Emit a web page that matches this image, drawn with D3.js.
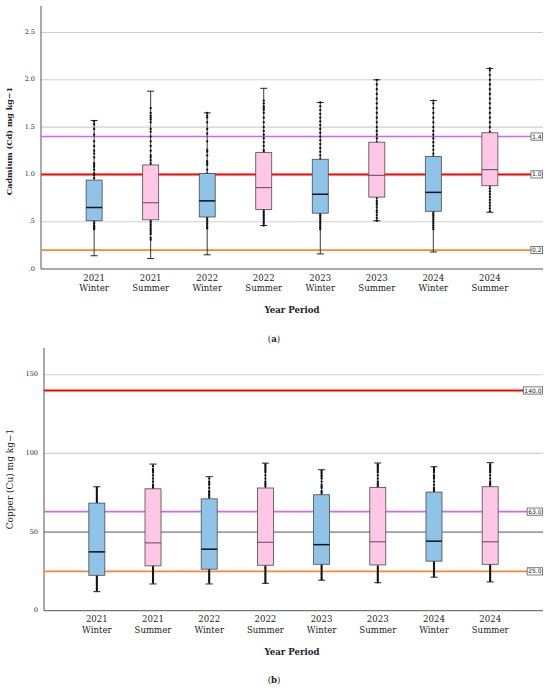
<!DOCTYPE html>
<html>
<head>
<meta charset="utf-8">
<script src="https://cdn.jsdelivr.net/npm/d3@7"></script>
<style>
  body { margin: 0; background: #fff; }
  text { font-family: "DejaVu Serif", serif; fill: #222; }
</style>
</head>
<body>
<div id="main"></div>
<script>
// categories
const years = ["2021", "2021", "2022", "2022", "2023", "2023", "2024", "2024"];
const seasons = ["Winter", "Summer", "Winter", "Summer", "Winter", "Summer", "Winter", "Summer"];

// Cadmium (a) box stats
const cdMin = [0.14, 0.11, 0.15, 0.46, 0.16, 0.51, 0.18, 0.60];
const cdQ1  = [0.51, 0.52, 0.55, 0.63, 0.59, 0.76, 0.61, 0.88];
const cdMed = [0.65, 0.70, 0.72, 0.86, 0.79, 0.99, 0.81, 1.05];
const cdQ3  = [0.94, 1.10, 1.01, 1.23, 1.16, 1.34, 1.19, 1.44];
const cdMax = [1.57, 1.88, 1.65, 1.91, 1.76, 2.00, 1.78, 2.12];
const cdPoints = [
  [0.42, 0.43, 0.44, 0.45, 0.46, 0.48, 0.50, 0.96, 0.99, 1.01, 1.05, 1.08, 1.10, 1.12, 1.18, 1.22, 1.25, 1.30, 1.35, 1.42, 1.48, 1.53, 1.56],
  [0.31, 0.33, 0.37, 0.39, 0.41, 0.43, 0.45, 0.47, 0.49, 0.51, 1.10, 1.12, 1.15, 1.18, 1.20, 1.25, 1.30, 1.35, 1.40, 1.45, 1.48, 1.55, 1.58, 1.60, 1.62, 1.65, 1.70],
  [0.43, 0.44, 0.46, 0.48, 0.50, 0.52, 0.54, 1.01, 1.05, 1.10, 1.12, 1.14, 1.20, 1.24, 1.26, 1.35, 1.43, 1.48, 1.55, 1.60, 1.62, 1.65],
  [0.46, 0.48, 0.50, 0.52, 0.54, 0.56, 0.58, 0.60, 0.62, 1.24, 1.26, 1.30, 1.34, 1.38, 1.42, 1.46, 1.50, 1.55, 1.60, 1.65, 1.68, 1.70, 1.72, 1.75, 1.78],
  [0.42, 0.44, 0.46, 0.48, 0.50, 0.52, 0.54, 0.56, 0.58, 1.16, 1.20, 1.24, 1.28, 1.32, 1.36, 1.40, 1.44, 1.48, 1.52, 1.56, 1.60, 1.64, 1.68, 1.72, 1.76],
  [0.51, 0.54, 0.57, 0.60, 0.62, 0.65, 0.68, 0.70, 0.72, 0.75, 1.34, 1.38, 1.42, 1.46, 1.50, 1.55, 1.60, 1.65, 1.70, 1.75, 1.80, 1.85, 1.90, 1.95, 2.00],
  [0.42, 0.44, 0.46, 0.48, 0.50, 0.52, 0.54, 0.56, 0.58, 0.60, 1.19, 1.22, 1.26, 1.30, 1.34, 1.38, 1.42, 1.46, 1.50, 1.55, 1.60, 1.65, 1.70, 1.75, 1.78],
  [0.61, 0.64, 0.67, 0.70, 0.73, 0.76, 0.79, 0.82, 0.85, 0.88, 1.45, 1.50, 1.55, 1.60, 1.65, 1.70, 1.75, 1.80, 1.85, 1.90, 1.95, 2.00, 2.05, 2.10, 2.12]
];
const cdTicks = [0, 0.5, 1.0, 1.5, 2.0, 2.5];
const cdRefValues = [1.4, 1.0, 0.2];
const cdRefLabels = ["1.4", "1.0", "0.2"];

// Copper (b) box stats
const cuMin = [12.1, 17.0, 17.0, 17.4, 19.4, 17.8, 21.3, 18.3];
const cuQ1  = [22.5, 28.5, 26.4, 28.9, 29.5, 29.1, 31.5, 29.5];
const cuMed = [37.4, 43.1, 39.1, 43.5, 42.0, 43.8, 44.2, 43.8];
const cuQ3  = [68.4, 77.5, 71.1, 78.0, 73.7, 78.4, 75.4, 78.8];
const cuMax = [78.8, 93.2, 85.2, 93.8, 89.6, 93.9, 91.5, 94.1];
const cuPoints = [
  [13, 14, 15, 16, 17, 18, 19, 20, 21, 22, 69, 70, 71, 72, 73, 74, 75, 76, 77, 78],
  [18, 19, 20, 21, 22, 23, 24, 25, 26, 27, 28, 78, 79, 80, 82, 84, 86, 88, 89, 90, 92],
  [18, 19, 20, 21, 22, 23, 24, 25, 26, 72, 73, 74, 75, 76, 78, 80, 81, 82, 84],
  [18, 19, 20, 21, 22, 23, 24, 25, 26, 27, 28, 79, 80, 81, 82, 84, 86, 88, 89, 90, 91, 92, 93],
  [20, 21, 22, 23, 24, 25, 26, 27, 28, 29, 74, 75, 76, 78, 79, 80, 82, 84, 85, 86, 87, 88, 89],
  [18, 19, 20, 21, 22, 23, 24, 25, 26, 27, 28, 79, 80, 81, 82, 84, 86, 88, 89, 90, 91, 92, 93],
  [22, 23, 24, 25, 26, 27, 28, 29, 30, 31, 76, 77, 78, 80, 82, 84, 85, 86, 88, 89, 90, 91],
  [19, 20, 21, 22, 23, 24, 25, 26, 27, 28, 29, 79, 80, 81, 82, 84, 86, 88, 89, 90, 91, 92, 93]
];
const cuTicks = [0, 50, 100, 150];
const cuRefValues = [140, 63, 25];
const cuRefLabels = ["140.0", "63.0", "25.0"];

const ctx = {
    w: 550,
    h: 688,
    BOX_W: 16,
    CAP_W: 7,
    DOT_R: 1.15,
    WINTER: "#8fc3e8",
    SUMMER: "#ffc6e6",
    GRID: "#cfcfcf",
    AXIS: "#555",
};
const refColors = ["#cc66ff", "#ff0000", "#ff8533"];
const refColorsCu = ["#ff0000", "#cc66ff", "#ff8533"];

function fmtCd(v){
    // SPSS style: ".0", ".5", "1.0"
    let s = d3.format(".1f")(v);
    return s.startsWith("0") ? s.slice(1) : s;
}

function drawPanel(svg, p){
    const g = svg.append("g");
    const idx = d3.range(years.length);
    const x = d3.scalePoint().domain(idx).range([p.left, p.right]).padding(0.94);
    const y = d3.scaleLinear().domain(p.domain).range([p.bottom, p.top]);

    // gridlines
    g.append("g").selectAll("line")
        .data(p.ticks.filter(t => t > 0))
        .enter().append("line")
        .attr("x1", p.left).attr("x2", p.right)
        .attr("y1", d => y(d)).attr("y2", d => y(d))
        .attr("stroke", d => (p.darkGrid === d ? "#555" : ctx.GRID))
        .attr("stroke-width", d => (p.darkGrid === d ? 1 : 1.1));

    // y tick labels
    g.append("g").selectAll("text")
        .data(p.ticks)
        .enter().append("text")
        .attr("x", p.left - 6).attr("y", d => y(d))
        .attr("text-anchor", "end").attr("dominant-baseline", "middle")
        .style("font-size", "6.5px")
        .text(d => p.fmt(d));

    // axes
    g.append("line").attr("x1", p.left).attr("x2", p.left)
        .attr("y1", y(p.domain[1])).attr("y2", p.bottom)
        .attr("stroke", ctx.AXIS).attr("stroke-width", 1);
    g.append("line").attr("x1", p.left).attr("x2", p.right)
        .attr("y1", p.bottom).attr("y2", p.bottom)
        .attr("stroke", ctx.AXIS).attr("stroke-width", 1);

    // reference lines
    const refs = g.append("g");
    p.refValues.forEach(function(v, i){
        refs.append("line")
            .attr("x1", p.left).attr("x2", p.right - 2)
            .attr("y1", y(v)).attr("y2", y(v))
            .attr("stroke", p.refColors[i])
            .attr("stroke-width", v === p.thick ? 2 : 1.6);
    });

    // boxes
    const boxes = g.append("g").selectAll("g")
        .data(idx).enter().append("g");
    boxes.append("line")
        .attr("x1", i => x(i)).attr("x2", i => x(i))
        .attr("y1", i => y(p.max[i])).attr("y2", i => y(p.min[i]))
        .attr("stroke", "#222").attr("stroke-width", 0.9);
    ["max", "min"].forEach(function(k){
        boxes.append("line")
            .attr("x1", i => x(i) - ctx.CAP_W / 2).attr("x2", i => x(i) + ctx.CAP_W / 2)
            .attr("y1", i => y(p[k][i])).attr("y2", i => y(p[k][i]))
            .attr("stroke", "#222").attr("stroke-width", 1);
    });
    boxes.selectAll("circle")
        .data(i => p.points[i].map(v => ({i: i, v: v})))
        .enter().append("circle")
        .attr("cx", d => x(d.i)).attr("cy", d => y(d.v))
        .attr("r", ctx.DOT_R).attr("fill", "#111");
    boxes.append("rect")
        .attr("x", i => x(i) - ctx.BOX_W / 2)
        .attr("y", i => y(p.q3[i]))
        .attr("width", ctx.BOX_W)
        .attr("height", i => y(p.q1[i]) - y(p.q3[i]))
        .attr("fill", i => seasons[i] === "Winter" ? ctx.WINTER : ctx.SUMMER)
        .attr("stroke", "#4a4a4a").attr("stroke-width", 0.8);
    boxes.append("line")
        .attr("x1", i => x(i) - ctx.BOX_W / 2).attr("x2", i => x(i) + ctx.BOX_W / 2)
        .attr("y1", i => y(p.med[i])).attr("y2", i => y(p.med[i]))
        .attr("stroke", i => seasons[i] === "Winter" ? "#111" : "#5a4a55")
        .attr("stroke-width", i => seasons[i] === "Winter" ? 1.5 : 1);

    // reference labels
    p.refValues.forEach(function(v, i){
        const lab = refs.append("g");
        const t = lab.append("text")
            .attr("x", p.right - 1.5).attr("y", y(v) + 0.4)
            .attr("text-anchor", "end").attr("dominant-baseline", "middle")
            .style("font-family", "'DejaVu Sans', sans-serif")
            .style("font-size", "6px")
            .text(p.refLabels[i]);
        const bb = t.node().getBBox();
        lab.insert("rect", "text")
            .attr("x", bb.x - 1).attr("y", y(v) - 3.6)
            .attr("width", bb.width + 2).attr("height", 7.2)
            .attr("fill", "#fff").attr("stroke", "#444").attr("stroke-width", 0.7);
    });

    // x labels
    const xl = g.append("g").selectAll("text")
        .data(idx).enter().append("text")
        .attr("text-anchor", "middle")
        .style("font-size", "8.6px");
    xl.append("tspan").attr("x", i => x(i)).attr("y", p.bottom + 11.5).text(i => years[i]);
    xl.append("tspan").attr("x", i => x(i)).attr("y", p.bottom + 22).text(i => seasons[i]);

    // titles
    g.append("text")
        .attr("x", 292).attr("y", p.bottom + 44)
        .attr("text-anchor", "middle")
        .style("font-size", "8.6px").style("font-weight", "bold")
        .text("Year Period");
    g.append("text")
        .attr("x", 274).attr("y", p.bottom + 72.5)
        .attr("text-anchor", "middle")
        .style("font-size", "8.6px")
        .html(p.tag);
    g.append("text")
        .attr("transform", `translate(10,${p.labelY}) rotate(-90)`)
        .attr("text-anchor", "middle").attr("dominant-baseline", "middle")
        .style("font-size", p.labelSize).style("font-weight", p.labelWeight)
        .text(p.label);
}

function createViz(){
    let svg = d3.select("#main").append("svg")
        .attr("width", ctx.w).attr("height", ctx.h);
    drawPanel(svg, {
        left: 41, right: 543, top: 6, bottom: 269, domain: [0, 2.78],
        ticks: cdTicks, fmt: fmtCd,
        min: cdMin, q1: cdQ1, med: cdMed, q3: cdQ3, max: cdMax, points: cdPoints,
        refValues: cdRefValues, refLabels: cdRefLabels, refColors: refColors, thick: 1.0,
        label: "Cadmium (Cd) mg kg\u22121", labelY: 141, labelSize: "8px", labelWeight: "bold",
        tag: "(<tspan font-weight='bold'>a</tspan>)"
    });
    drawPanel(svg, {
        left: 44, right: 543, top: 348, bottom: 610.7, domain: [0, 167],
        ticks: cuTicks, fmt: d3.format("d"), darkGrid: 50,
        min: cuMin, q1: cuQ1, med: cuMed, q3: cuQ3, max: cuMax, points: cuPoints,
        refValues: cuRefValues, refLabels: cuRefLabels, refColors: refColorsCu, thick: 140,
        label: "Copper (Cu) mg kg\u22121", labelY: 479, labelSize: "9px", labelWeight: "normal",
        tag: "(<tspan font-weight='bold'>b</tspan>)"
    });
}
createViz();
</script>
</body>
</html>
